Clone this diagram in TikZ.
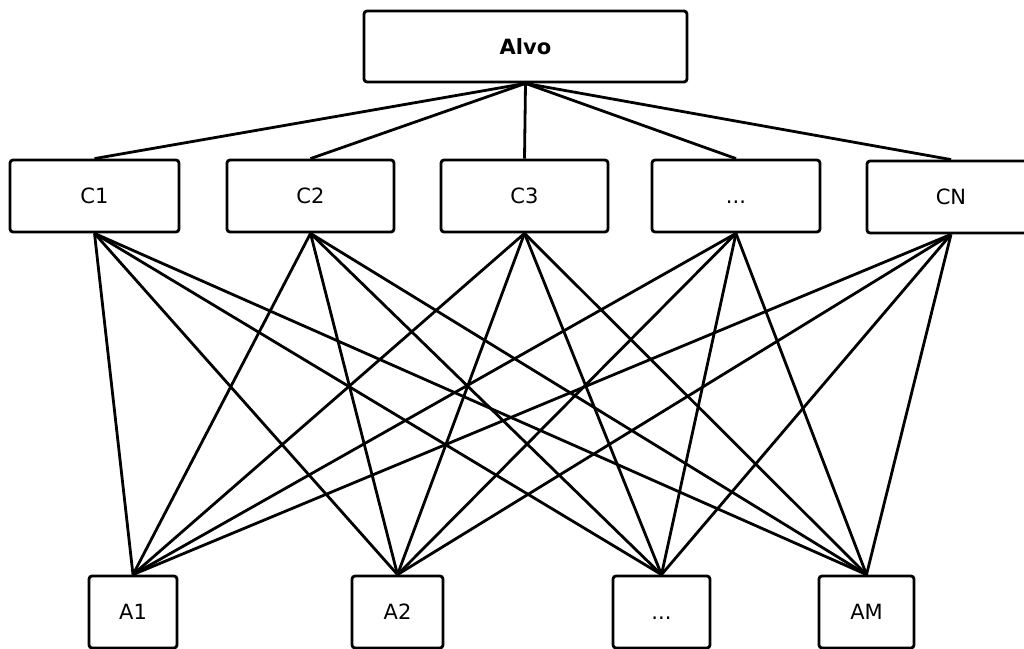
\documentclass[tikz,border=0pt]{standalone}
\usepackage{fontspec}
\setmainfont{DejaVu Sans}
\begin{document}
\begin{tikzpicture}[x=1pt,y=-1pt,
  box/.style={draw=black, line width=2.8pt, rounded corners=3pt, fill=white, inner sep=0pt, text height=15.5pt, text depth=0pt, font=\fontsize{21}{25}\selectfont},
  link/.style={draw=black, line width=2.8pt}]
\useasboundingbox (0,0) rectangle (1024,648);
\fill[white] (0,0) rectangle (1024,648);
\node[box, minimum width=323pt, minimum height=71pt, font=\fontsize{21}{25}\selectfont\bfseries] (alvo) at (525.5,46.5) {Alvo};
\node[box, minimum width=169pt, minimum height=72pt] (c1) at (94.5,196) {C1};
\node[box, minimum width=167pt, minimum height=72pt] (c2) at (310.5,196) {C2};
\node[box, minimum width=167pt, minimum height=72pt] (c3) at (524.5,196) {C3};
\node[box, minimum width=168pt, minimum height=72pt] (cd) at (736,196) {...};
\node[box, minimum width=168pt, minimum height=72pt] (cn) at (951,197) {CN};
\node[box, minimum width=88pt, minimum height=72pt] (a1) at (133,612) {A1};
\node[box, minimum width=91pt, minimum height=72pt] (a2) at (397.5,612) {A2};
\node[box, minimum width=97pt, minimum height=72pt] (ad) at (661.5,612) {...};
\node[box, minimum width=95pt, minimum height=72pt] (am) at (866.5,612) {AM};
\foreach \c in {c1,c2,c3,cd,cn}{
  \draw[link] (alvo.south) -- (\c.north);
  \foreach \a in {a1,a2,ad,am}{
    \draw[link] (\c.south) -- (\a.north);
  }
}
\end{tikzpicture}
\end{document}
